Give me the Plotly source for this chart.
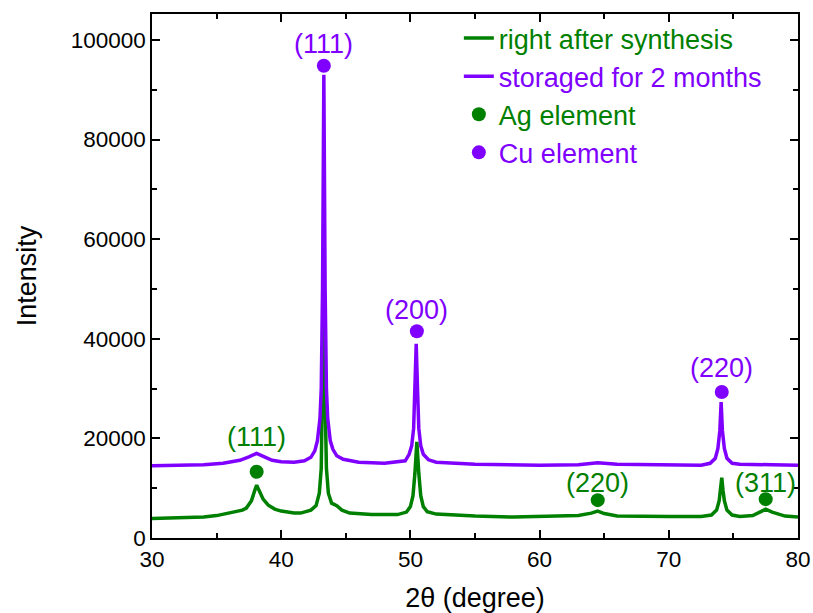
import plotly.graph_objects as go

# ---- data ----
x_green = [30, 32, 34, 35, 35.8, 36.3, 37, 37.3, 37.7, 37.95, 38.1, 38.3, 38.6, 39.0, 39.5, 40, 41,
           41.5, 42.3, 42.7, 42.95, 43.1, 43.2, 43.3, 43.4, 43.5, 43.65, 43.9, 44.3, 44.7, 45.3,
           47, 49, 49.7, 50.0, 50.2, 50.35, 50.5, 50.65, 50.8, 51.0, 51.3, 52, 55, 58, 61.5, 63, 64,
           64.5, 65, 66, 70, 72.5, 73.3, 73.7, 73.9, 74.0, 74.1, 74.2, 74.3, 74.5, 74.9, 75.5, 76.5,
           77.2, 77.5, 78, 79, 80]
y_green = [3900, 4000, 4200, 4500, 5000, 5300, 5600, 6000, 7500, 9500, 10600, 9500, 7800, 6600, 5800,
           5400, 5000, 5000, 5600, 6500, 9000, 14000, 28000, 50000, 28000, 14000, 9000, 7000, 6500,
           5600, 5000, 4700, 4700, 5200, 6300, 8500, 13000, 19300, 13000, 8500, 6300, 5300, 4800,
           4400, 4200, 4300, 4500, 5000, 5400, 4900, 4400, 4300, 4300, 4600, 5600, 7500, 9500, 12100,
           9500, 7500, 5600, 4600, 4300, 4500, 5400, 5800, 5200, 4400, 4200]

x_purple = [30, 32, 34, 35.5, 36.8, 37.5, 38.1, 38.7, 39.3, 40, 41, 41.8, 42.3, 42.6, 42.8, 43.0, 43.1,
            43.2, 43.3, 43.4, 43.5, 43.6, 43.8, 44.0, 44.3, 44.8, 46, 48, 49.6, 49.9, 50.1, 50.25,
            50.35, 50.45, 50.55, 50.65, 50.8, 51.0, 51.4, 52, 55, 60, 63, 64.5, 66, 70, 72.5, 73.2,
            73.6, 73.8, 73.95, 74.05, 74.15, 74.3, 74.5, 74.9, 75.5, 78, 80]
y_purple = [14500, 14600, 14700, 15000, 15600, 16300, 17000, 16300, 15600, 15300, 15200, 15500, 16200,
            17500, 19500, 24000, 30000, 50000, 93000, 50000, 30000, 24000, 19500, 17800, 16500, 15800,
            15200, 15000, 15500, 16800, 18500, 22000, 30000, 39000, 30000, 22000, 18500, 16800, 15700,
            15200, 14800, 14600, 14700, 15100, 14800, 14600, 14600, 15000, 16000, 18000, 21500, 27300,
            21500, 18000, 16000, 15000, 14800, 14700, 14600]

ag_x = [38.1, 64.5, 77.5]
ag_y = [13300, 7600, 7800]
ag_labels = ["(111)", "(220)", "(311)"]
ag_label_y = [20300, 11000, 11000]

cu_x = [43.3, 50.5, 74.1]
cu_y = [94800, 41500, 29300]
cu_labels = ["(111)", "(200)", "(220)"]
cu_label_y = [99200, 45800, 34200]

GREEN = "#008000"
PURPLE = "#8000FF"
FONT = "Arial, Liberation Sans, sans-serif"

fig = go.Figure()
fig.add_trace(go.Scatter(x=x_green, y=y_green, mode="lines",
                         line=dict(color=GREEN, width=3.5),
                         name=f"<span style='color:{GREEN}'>right after synthesis</span>"))
fig.add_trace(go.Scatter(x=x_purple, y=y_purple, mode="lines",
                         line=dict(color=PURPLE, width=3.5),
                         name=f"<span style='color:{PURPLE}'>storaged for 2 months</span>"))
fig.add_trace(go.Scatter(x=ag_x, y=ag_y, mode="markers",
                         marker=dict(color=GREEN, size=14),
                         name=f"<span style='color:{GREEN}'>Ag element</span>"))
fig.add_trace(go.Scatter(x=cu_x, y=cu_y, mode="markers",
                         marker=dict(color=PURPLE, size=14),
                         name=f"<span style='color:{PURPLE}'>Cu element</span>"))

for xv, yv, t in zip(ag_x, ag_label_y, ag_labels):
    fig.add_annotation(x=xv, y=yv, text=t, showarrow=False,
                       font=dict(color=GREEN, size=27, family=FONT))
for xv, yv, t in zip(cu_x, cu_label_y, cu_labels):
    fig.add_annotation(x=xv, y=yv, text=t, showarrow=False,
                       font=dict(color=PURPLE, size=27, family=FONT))

axis_common = dict(showline=True, linecolor="black", linewidth=1.5, mirror="ticks",
                   ticks="inside", ticklen=8, tickwidth=1.5, tickcolor="black",
                   showgrid=False, zeroline=False, automargin=False,
                   tickfont=dict(size=22.5, family=FONT, color="black"))

fig.update_xaxes(range=[30, 80], dtick=10, tick0=30,
                 minor=dict(ticks="inside", ticklen=5, dtick=5, tickcolor="black", tickwidth=1.5),
                 title=dict(text="2θ (degree)", font=dict(size=27, family=FONT, color="black"), standoff=20),
                 **axis_common)
fig.update_yaxes(range=[0, 105200], dtick=20000, tick0=0, tickformat="d",
                 minor=dict(ticks="inside", ticklen=5, dtick=10000, tickcolor="black", tickwidth=1.5),
                 title=dict(text="Intensity", font=dict(size=27, family=FONT, color="black"), standoff=26),
                 **axis_common)

fig.update_layout(
    width=813, height=613,
    margin=dict(l=152, r=15, t=14, b=75),
    paper_bgcolor="white", plot_bgcolor="white",
    font=dict(family=FONT),
    showlegend=True,
    legend=dict(x=0.475, y=1.0, xanchor="left", yanchor="top",
                bgcolor="rgba(0,0,0,0)", font=dict(size=27, family=FONT),
                tracegroupgap=0, itemwidth=30),
)

# remove the browser's default 8px body margin and scrollbars so the figure fills the window
fig.write_html("out.html",
               config={"displayModeBar": False},
               post_script="document.body.style.margin='0';document.body.style.overflow='hidden';")
